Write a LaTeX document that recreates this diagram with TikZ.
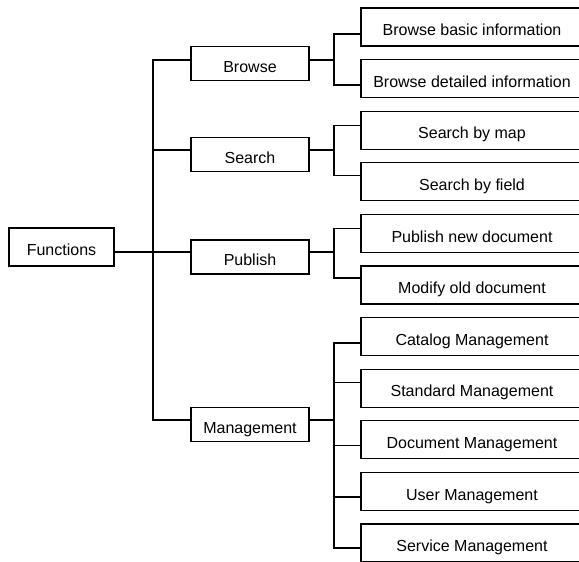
\documentclass[tikz,border=0pt]{standalone}
\usepackage{fontspec}
\setmainfont{Liberation Sans}
\usepackage{tikz}
\usetikzlibrary{positioning}
\tikzset{%
	block/.style    = {draw, rectangle, line width=1.1pt, minimum height=38pt, minimum width=105pt, inner sep=0pt, text height=17.5pt, text depth=0pt, font=\fontsize{16}{19}\selectfont},
	branch/.style   = {block, minimum height=34pt, minimum width=118pt}, % second level
	leaf/.style     = {block, minimum width=222pt}, % third level
	waypoint/.style = {coordinate},
	link/.style     = {line width=1.1pt},
}

\begin{document}
\begin{tikzpicture}[x=1pt, y=1pt, node distance = 51.6pt]
	\useasboundingbox (0,0) rectangle (579,-562);
	\node[block] (fun) at (61.5,-247) {Functions};
	\node[branch] (browse) at (250,-63.5) {Browse};
	\node[branch] (search) at (250,-154.5) {Search};
	\node[branch] (publish) at (250,-257) {Publish};
	\node[branch] (manage) at (250,-424.5) {Management};
	
	\node[leaf] (bbasic) at (472,-27) {Browse basic information};
	\node[leaf,below of=bbasic] (bdetail) {Browse detailed information};
	\node[leaf,below of=bdetail] (smap) {Search by map};
	\node[leaf,below of=smap] (sfield) {Search by field};
	\node[leaf,below of=sfield] (pnew) {Publish new document};
	\node[leaf,below of=pnew] (pmodify) {Modify old document};
	\node[leaf,below of=pmodify] (mcatalog) {Catalog Management};
	\node[leaf,below of=mcatalog] (mstandard) {Standard Management};
	\node[leaf,below of=mstandard] (mdocument) {Document Management};
	\node[leaf,below of=mdocument] (muser) {User Management};
	\node[leaf,below of=muser] (mservice) {Service Management};
	
	\node[waypoint] (wp1) at (153,-252) {};
	\node[waypoint,right of=browse,node distance=84pt,yshift=3.5pt] (wp2) {};
	\node[waypoint,right of=search,node distance=84pt,yshift=4.5pt] (wp3) {};
	\node[waypoint,right of=publish,node distance=84pt,yshift=5pt] (wp4) {};
	\node[waypoint,right of=manage,node distance=84pt,yshift=4.5pt] (wp5) {};
	
	\draw[link] ([yshift=-5pt]fun.east) -- (wp1);
	\draw[link] ([yshift=3.5pt]browse.west) -| (wp1) |- ([yshift=4.5pt]manage.west);
	\draw[link] ([yshift=4.5pt]search.west) -| (wp1);
	\draw[link] ([yshift=5pt]publish.west) -- (wp1);
	
	\draw[link] ([yshift=3.5pt]browse.east) -- (wp2);
	\draw[link] ([yshift=-7pt]bbasic.west) -| (wp2) |- ([yshift=-6.4pt]bdetail.west);
	\draw[link] ([yshift=4.5pt]search.east) -- (wp3);
	\draw[link] ([yshift=5pt]smap.west) -| (wp3) |- ([yshift=6pt]sfield.west);
	\draw[link] ([yshift=5pt]publish.east) -- (wp4);
	\draw[link] ([yshift=5pt]pnew.west) -| (wp4) |- ([yshift=7pt]pmodify.west);
	\draw[link] ([yshift=4.5pt]manage.east) -- (wp5);
	\draw[link] ([yshift=-6.4pt]mcatalog.west) -| (wp5) |- ([yshift=-5pt]mservice.west);
	\draw[link] ([yshift=6pt]mstandard.west) -| (wp5);
	\draw[link] ([yshift=-6pt]mdocument.west) -| (wp5);
	\draw[link] ([yshift=-5.6pt]muser.west) -| (wp5);
\end{tikzpicture}
\end{document}
